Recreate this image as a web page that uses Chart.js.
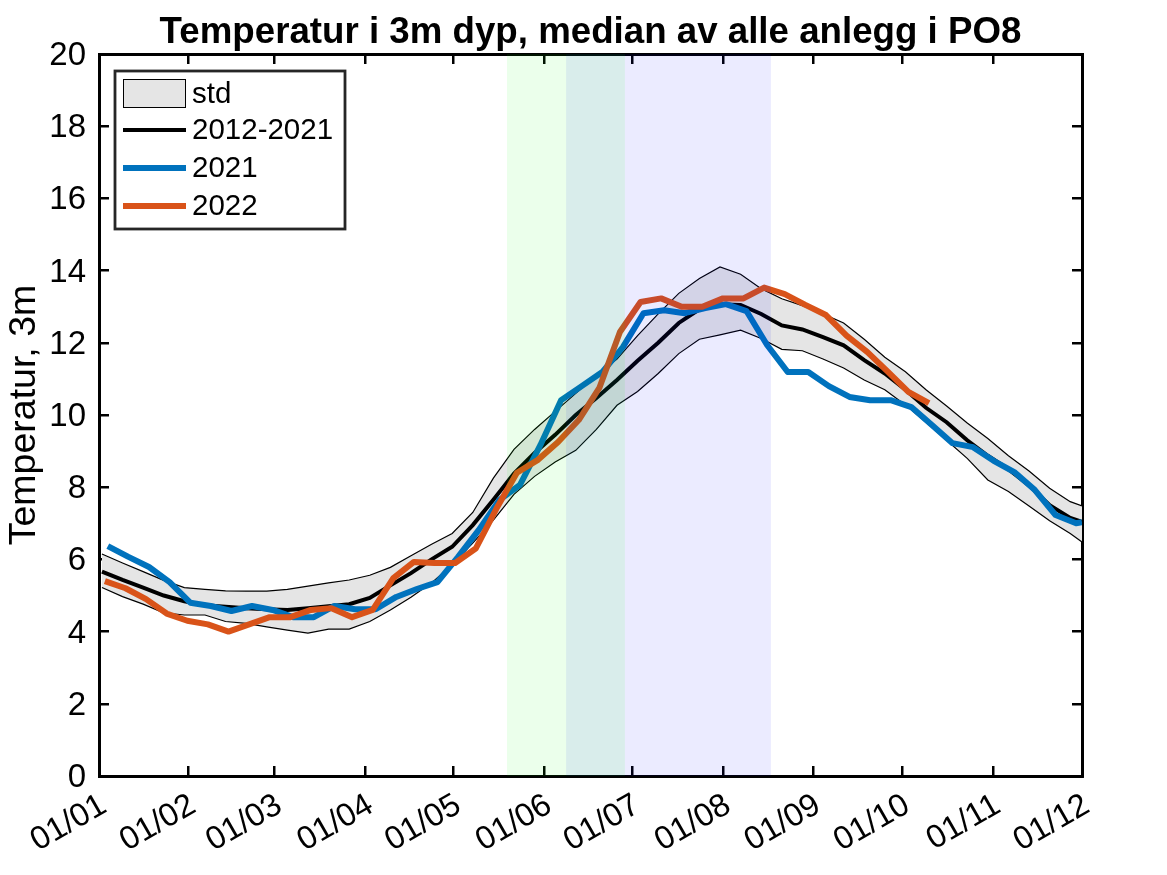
<!DOCTYPE html>
<html>
<head>
<meta charset="utf-8">
<title>Temperatur i 3m dyp</title>
<script src="https://cdn.jsdelivr.net/npm/chart.js@4"></script>
<style>
  html, body { margin: 0; padding: 0; background: #fff; }
  canvas { display: block; }
</style>
</head>
<body>
<canvas id="chart" width="1167" height="875"></canvas>
<script>
const monthDays = [0, 30.3, 59.6, 90.6, 120.4, 151.3, 181.2, 212.1, 242.6, 272.9, 303.7, 334];
const monthLabels = ['01/01', '01/02', '01/03', '01/04', '01/05', '01/06', '01/07', '01/08', '01/09', '01/10', '01/11', '01/12'];
const yTicks = [0, 2, 4, 6, 8, 10, 12, 14, 16, 18, 20];

const stdDays = [1, 8, 15, 22, 29, 36, 43, 50, 57, 64, 71, 78, 85, 92, 99, 106, 113, 120, 127, 134, 141, 148, 155, 162, 169, 176, 183, 190, 197, 204, 211, 218, 225, 232, 239, 246, 253, 260, 267, 274, 281, 288, 295, 302, 309, 316, 323, 330, 334];
const stdUpper = [6.15, 5.9, 5.66, 5.42, 5.22, 5.17, 5.13, 5.12, 5.12, 5.17, 5.26, 5.35, 5.43, 5.56, 5.78, 6.1, 6.42, 6.72, 7.3, 8.25, 9.05, 9.6, 10.1, 10.6, 11.1, 11.55, 12.2, 12.8, 13.37, 13.78, 14.1, 13.9, 13.5, 13.22, 13.03, 12.8, 12.55, 12.1, 11.6, 11.2, 10.7, 10.25, 9.78, 9.35, 8.87, 8.45, 7.97, 7.6, 7.48];
const stdLower = [5.22, 4.97, 4.76, 4.52, 4.46, 4.46, 4.28, 4.23, 4.13, 4.04, 3.96, 4.07, 4.07, 4.28, 4.6, 4.95, 5.35, 5.85, 6.45, 7.09, 7.8, 8.3, 8.7, 9.02, 9.6, 10.27, 10.65, 11.15, 11.7, 12.1, 12.22, 12.35, 12.12, 11.82, 11.78, 11.55, 11.3, 10.97, 10.7, 10.28, 9.8, 9.3, 8.8, 8.2, 7.88, 7.48, 7.07, 6.72, 6.48];
const meanValues = [5.66, 5.43, 5.22, 5.0, 4.84, 4.73, 4.69, 4.65, 4.62, 4.6, 4.65, 4.7, 4.76, 4.93, 5.28, 5.62, 6.0, 6.35, 6.95, 7.65, 8.38, 8.95, 9.45, 10.0, 10.47, 10.97, 11.5, 12.0, 12.55, 12.93, 13.07, 13.05, 12.8, 12.48, 12.37, 12.16, 11.93, 11.52, 11.15, 10.7, 10.2, 9.8, 9.3, 8.87, 8.5, 8.05, 7.5, 7.15, 7.04];

const days2021 = [3, 10, 17, 24, 31, 38, 45, 52, 59, 66, 73, 80, 87, 94, 101, 108, 115, 122, 129, 136, 143, 150, 157, 164, 171, 178, 185, 192, 199, 206, 213, 220, 227, 234, 241, 248, 255, 262, 269, 276, 283, 290, 297, 304, 311, 318, 325, 332, 334];
const values2021 = [6.37, 6.07, 5.79, 5.37, 4.8, 4.71, 4.57, 4.71, 4.6, 4.4, 4.4, 4.71, 4.62, 4.62, 4.96, 5.18, 5.37, 6.07, 6.81, 7.64, 8.06, 9.17, 10.41, 10.8, 11.19, 11.88, 12.82, 12.9, 12.82, 12.96, 13.07, 12.88, 11.94, 11.19, 11.19, 10.8, 10.5, 10.41, 10.41, 10.22, 9.72, 9.22, 9.11, 8.73, 8.42, 7.92, 7.23, 7.0, 7.03];

const days2022 = [2, 9, 16, 23, 30, 37, 44, 51, 58, 65, 72, 79, 86, 93, 100, 107, 114, 121, 128, 135, 142, 149, 156, 163, 170, 177, 184, 191, 198, 205, 212, 219, 226, 233, 240, 247, 254, 261, 268, 275, 282];
const values2022 = [5.4, 5.2, 4.9, 4.5, 4.3, 4.2, 4.0, 4.2, 4.4, 4.4, 4.6, 4.65, 4.4, 4.6, 5.48, 5.93, 5.9, 5.9, 6.3, 7.4, 8.4, 8.75, 9.25, 9.86, 10.75, 12.3, 13.13, 13.23, 13.0, 13.0, 13.23, 13.23, 13.53, 13.35, 13.05, 12.77, 12.2, 11.75, 11.2, 10.64, 10.33];

// shaded periods, the two overlap in the middle
const greenSpan = [138.6, 178.7];
const blueSpan = [158.7, 228.3];

const legendLabels = ['std', '2012-2021', '2021', '2022'];

const BLUE = '#0072BD';
const RED = '#D95319';
const BAND = '#E5E5E5';
const FONT = '"Liberation Sans", Arial, sans-serif';

function pts(xs, ys) {
  return xs.map((x, i) => ({ x: x, y: ys[i] }));
}

function spanDataset(span, color) {
  return {
    data: span.map(x => ({ x: x, y: 20 })),
    backgroundColor: color,
    borderWidth: 0,
    pointRadius: 0,
    fill: 'origin',
    order: 0
  };
}

// title is centred over the axes, not the whole page
const centerTitle = {
  id: 'centerTitle',
  afterLayout(chart) {
    chart.titleBlock.left = chart.chartArea.left;
    chart.titleBlock.right = chart.chartArea.right;
  }
};

// legend sits inside the axes, so it is drawn by hand
const insideLegend = {
  id: 'insideLegend',
  afterDraw(chart) {
    const ctx = chart.ctx;
    ctx.save();
    ctx.fillStyle = '#fff';
    ctx.fillRect(115, 71, 230, 158);
    ctx.strokeStyle = '#262626';
    ctx.lineWidth = 2.8;
    ctx.strokeRect(115, 71, 230, 158);

    ctx.fillStyle = BAND;
    ctx.fillRect(123.5, 79.5, 62, 28);
    ctx.strokeStyle = '#000';
    ctx.lineWidth = 1;
    ctx.strokeRect(123.5, 79.5, 62, 28);

    const rowY = [94, 130, 168, 206];
    const rowColor = [null, '#000', BLUE, RED];
    const rowWidth = [0, 4, 6, 6];
    ctx.font = '29.5px ' + FONT;
    ctx.textBaseline = 'middle';
    legendLabels.forEach((label, i) => {
      if (rowColor[i]) {
        ctx.strokeStyle = rowColor[i];
        ctx.lineWidth = rowWidth[i];
        ctx.beginPath();
        ctx.moveTo(123, rowY[i]);
        ctx.lineTo(186, rowY[i]);
        ctx.stroke();
      }
      ctx.fillStyle = '#000';
      ctx.fillText(label, 192, rowY[i] + 1);
    });
    ctx.restore();
  }
};

const tickGrid = {
  drawOnChartArea: false,
  color: '#000',
  lineWidth: 2.5,
  tickLength: -10
};
const axisBorder = { color: '#000', width: 3 };

new Chart(document.getElementById('chart'), {
  type: 'line',
  data: {
    datasets: [
      spanDataset(greenSpan, 'rgba(0, 255, 0, 0.08)'),
      spanDataset(blueSpan, 'rgba(0, 0, 255, 0.08)'),
      { data: pts(days2022, values2022), borderColor: RED, borderWidth: 6, pointRadius: 0, fill: false, order: 1, borderJoinStyle: 'round' },
      { data: pts(days2021, values2021), borderColor: BLUE, borderWidth: 6, pointRadius: 0, fill: false, order: 2, borderJoinStyle: 'round' },
      { data: pts(stdDays, meanValues), borderColor: '#000', borderWidth: 4, pointRadius: 0, fill: false, order: 3 },
      { data: pts(stdDays, stdLower), borderColor: '#000', borderWidth: 1.2, pointRadius: 0, fill: false, order: 4 },
      { data: pts(stdDays, stdUpper), borderColor: '#000', borderWidth: 1.2, pointRadius: 0, backgroundColor: BAND, fill: '-1', order: 5 }
    ]
  },
  options: {
    responsive: false,
    animation: false,
    devicePixelRatio: 1,
    layout: { padding: { left: 0, top: 0, right: 85, bottom: 0 } },
    plugins: {
      legend: { display: false },
      tooltip: { enabled: false },
      title: {
        display: true,
        text: 'Temperatur i 3m dyp, median av alle anlegg i PO8',
        color: '#000',
        font: { family: FONT, size: 36.7, weight: 'bold', lineHeight: 1 },
        padding: { top: 15, bottom: 2.3 }
      }
    },
    scales: {
      x: {
        type: 'linear',
        min: 0,
        max: 334,
        border: axisBorder,
        grid: tickGrid,
        afterBuildTicks(scale) { scale.ticks = monthDays.map(v => ({ value: v })); },
        afterFit(scale) { scale.height = 99; },
        ticks: {
          autoSkip: false,
          minRotation: 30,
          maxRotation: 30,
          padding: 20,
          labelOffset: 5,
          color: '#000',
          font: { family: FONT, size: 32.5 },
          callback: v => monthLabels[monthDays.indexOf(v)]
        }
      },
      y: {
        min: 0,
        max: 20,
        border: axisBorder,
        grid: tickGrid,
        afterBuildTicks(scale) { scale.ticks = yTicks.map(v => ({ value: v })); },
        afterFit(scale) { scale.width = 99; },
        title: {
          display: true,
          text: 'Temperatur, 3m',
          color: '#000',
          font: { family: FONT, size: 37.5, lineHeight: 1 },
          padding: { top: 6, bottom: 0 }
        },
        ticks: {
          padding: 23,
          labelOffset: 2,
          color: '#000',
          font: { family: FONT, size: 33 }
        }
      },
      xTop: {
        type: 'linear',
        position: 'top',
        min: 0,
        max: 334,
        border: axisBorder,
        grid: tickGrid,
        afterBuildTicks(scale) { scale.ticks = monthDays.map(v => ({ value: v })); },
        afterFit(scale) { scale.height = 0; },
        ticks: { display: false, autoSkip: false }
      },
      yRight: {
        position: 'right',
        min: 0,
        max: 20,
        border: axisBorder,
        grid: tickGrid,
        afterBuildTicks(scale) { scale.ticks = yTicks.map(v => ({ value: v })); },
        afterFit(scale) { scale.width = 0; },
        ticks: { display: false }
      }
    }
  },
  plugins: [centerTitle, insideLegend]
});
</script>
</body>
</html>
